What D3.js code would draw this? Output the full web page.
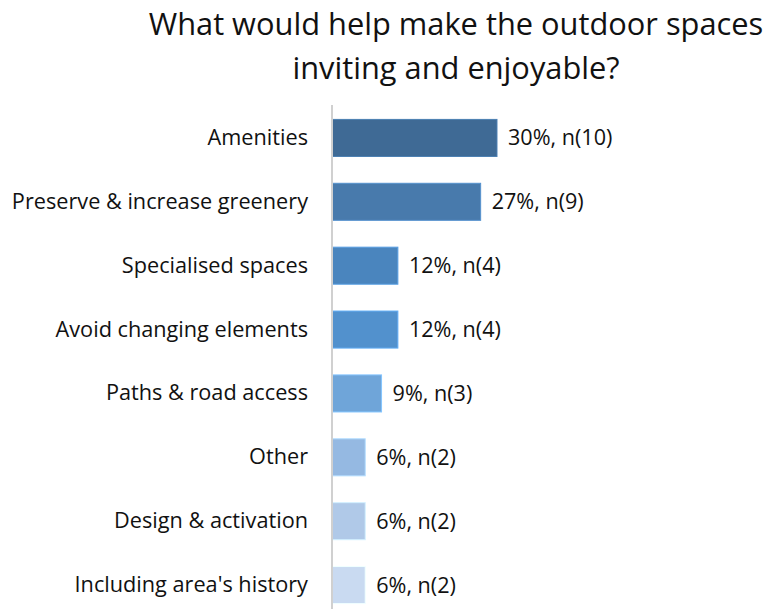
<!DOCTYPE html>
<html>
<head>
<meta charset="utf-8">
<script src="https://cdn.jsdelivr.net/npm/d3@7"></script>
<style>
  body { margin: 0; background: #fff; }
  text { font-family: "Open Sans", Lato, sans-serif; fill: #111; }
</style>
</head>
<body>
<div id="chart"></div>
<script>
// chart data
var categories = ["Amenities", "Preserve & increase greenery", "Specialised spaces",
    "Avoid changing elements", "Paths & road access", "Other",
    "Design & activation", "Including area's history"]
var percents = [30.3, 27.3, 12.1, 12.1, 9.1, 6.1, 6.1, 6.1]
var counts = [10, 9, 4, 4, 3, 2, 2, 2]
var pctLabels = ["30%", "27%", "12%", "12%", "9%", "6%", "6%", "6%"]
var barColors = ["#3f6a95", "#487aac", "#4a85be", "#5291cd", "#6fa5d9", "#95b9e2", "#b0c9e8", "#c9daf1"]
var titleLines = ["What would help make the outdoor spaces", "inviting and enjoyable?"]

var width = 770
    height = 609
    axisX = 332

var svg = d3.select("#chart")
    .append("svg")
        .attr("width", width)
        .attr("height", height)

// title
svg.selectAll("text.title")
    .data(titleLines)
    .enter()
    .append("text")
        .attr("class", "title")
        .attr("x", 456)
        .attr("y", function(d, i){ return 35 + i*44 })
        .attr("text-anchor", "middle")
        .attr("font-size", "30.8px")
        .text(function(d){ return d })

var y = d3.scaleBand()
    .domain(categories)
    .range([106, 617])
    .paddingInner(0.42)
    .paddingOuter(0.21)

var x = d3.scaleLinear()
    .domain([0, 100])
    .range([axisX, axisX + 544.5])

var rows = categories.map(function(c, i){
    return {cat: c, pct: percents[i], n: counts[i], label: pctLabels[i], color: barColors[i]}
})

// bars
svg.selectAll("rect.bar")
    .data(rows)
    .enter()
    .append("rect")
        .attr("class", "bar")
        .attr("x", x(0))
        .attr("y", function(d){ return y(d.cat) })
        .attr("width", function(d){ return x(d.pct) - x(0) })
        .attr("height", y.bandwidth())
        .attr("fill", function(d){ return d.color })
        .attr("stroke", function(d){ return d3.color(d.color).brighter(0.5) })
        .attr("stroke-width", 1)

// value labels
svg.selectAll("text.val")
    .data(rows)
    .enter()
    .append("text")
        .attr("class", "val")
        .attr("x", function(d){ return x(d.pct) + 11 })
        .attr("y", function(d){ return y(d.cat) + y.bandwidth()/2 })
        .attr("dy", "0.35em")
        .attr("font-size", "21.6px")
        .text(function(d){ return d.label + ", n(" + d.n + ")" })

// category axis
var yAxis = svg.append("g")
    .attr("transform", "translate(" + axisX + ",0)")
    .call(d3.axisLeft(y).tickSize(0).tickPadding(24))
yAxis.select(".domain").remove()
yAxis.append("line")
    .attr("x1", 0).attr("x2", 0)
    .attr("y1", 105).attr("y2", height)
    .attr("stroke", "#d0d0d0")
    .attr("stroke-width", 2)
yAxis.selectAll(".tick text")
    .attr("font-size", "21.7px")
    .attr("font-family", "'Open Sans', Lato, sans-serif")
    .attr("fill", "#111")
</script>
</body>
</html>
